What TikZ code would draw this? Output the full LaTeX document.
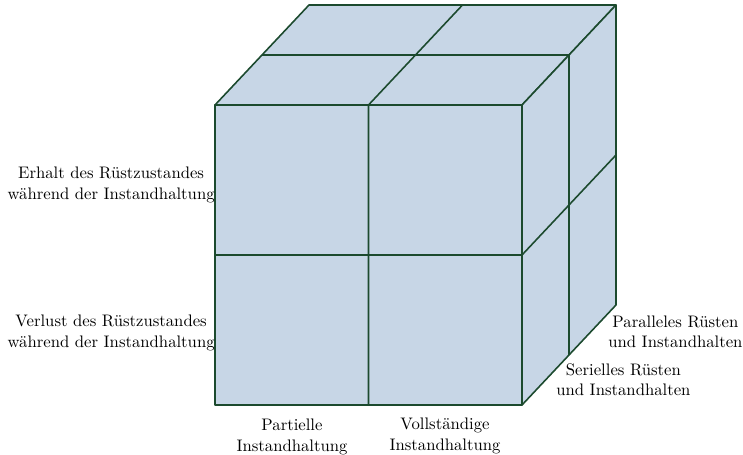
\documentclass[tikz,border=0pt]{standalone}
\usetikzlibrary{positioning,calc}
\definecolor{cubeblue}{RGB}{199,214,230}
\definecolor{cubeline}{RGB}{28,74,46}

\begin{document}
\begin{tikzpicture}[x=0.02cm,y=0.02cm,
		face/.style = {fill=cubeblue, draw=cubeline, line width=0.9pt, line join=round},
		grid/.style = {draw=cubeline, line width=0.9pt},
		label/.style = {align=center, inner sep=0pt, font=\fontsize{9.5pt}{11.6pt}\selectfont}]
	\useasboundingbox (0,0) rectangle (743,455);
	% front corners
	\coordinate (fbl) at (215,50);
	\coordinate (fbr) at (522,50);
	\coordinate (ftr) at (522,350);
	\coordinate (ftl) at (215,350);
	% back corners
	\coordinate (btl) at (309,450);
	\coordinate (btr) at (616,450);
	\coordinate (bbr) at (616,150);
	% faces
	\draw[face] (fbl) rectangle (ftr);
	\draw[face] (ftl) -- (btl) -- (btr) -- (ftr) -- cycle;
	\draw[face] (fbr) -- (ftr) -- (btr) -- (bbr) -- cycle;
	% dividing lines
	\draw[grid] ($(fbl)!0.5!(fbr)$) -- ($(ftl)!0.5!(ftr)$) -- ($(btl)!0.5!(btr)$);
	\draw[grid] ($(fbl)!0.5!(ftl)$) -- ($(fbr)!0.5!(ftr)$) -- ($(bbr)!0.5!(btr)$);
	\draw[grid] ($(ftl)!0.5!(btl)$) -- ($(ftr)!0.5!(btr)$) -- ($(fbr)!0.5!(bbr)$);
	% labels
	\node[label, anchor=east] (erhalt) at (215,270) {Erhalt des Rüstzustandes\\während der Instandhaltung};
	\node[label, anchor=east] (verlust) at (215,122) {Verlust des Rüstzustandes\\während der Instandhaltung};
	\node[label] (partiell) at (292,18) {Partielle\\Instandhaltung};
	\node[label] (voll) at (445,19) {Vollständige\\Instandhaltung};
	\node[label, anchor=west] (seriell) at (556,75) {Serielles Rüsten\\und Instandhalten};
	\node[label, anchor=west] (parallel) at (608,123) {Paralleles Rüsten\\und Instandhalten};
\end{tikzpicture}
\end{document}
